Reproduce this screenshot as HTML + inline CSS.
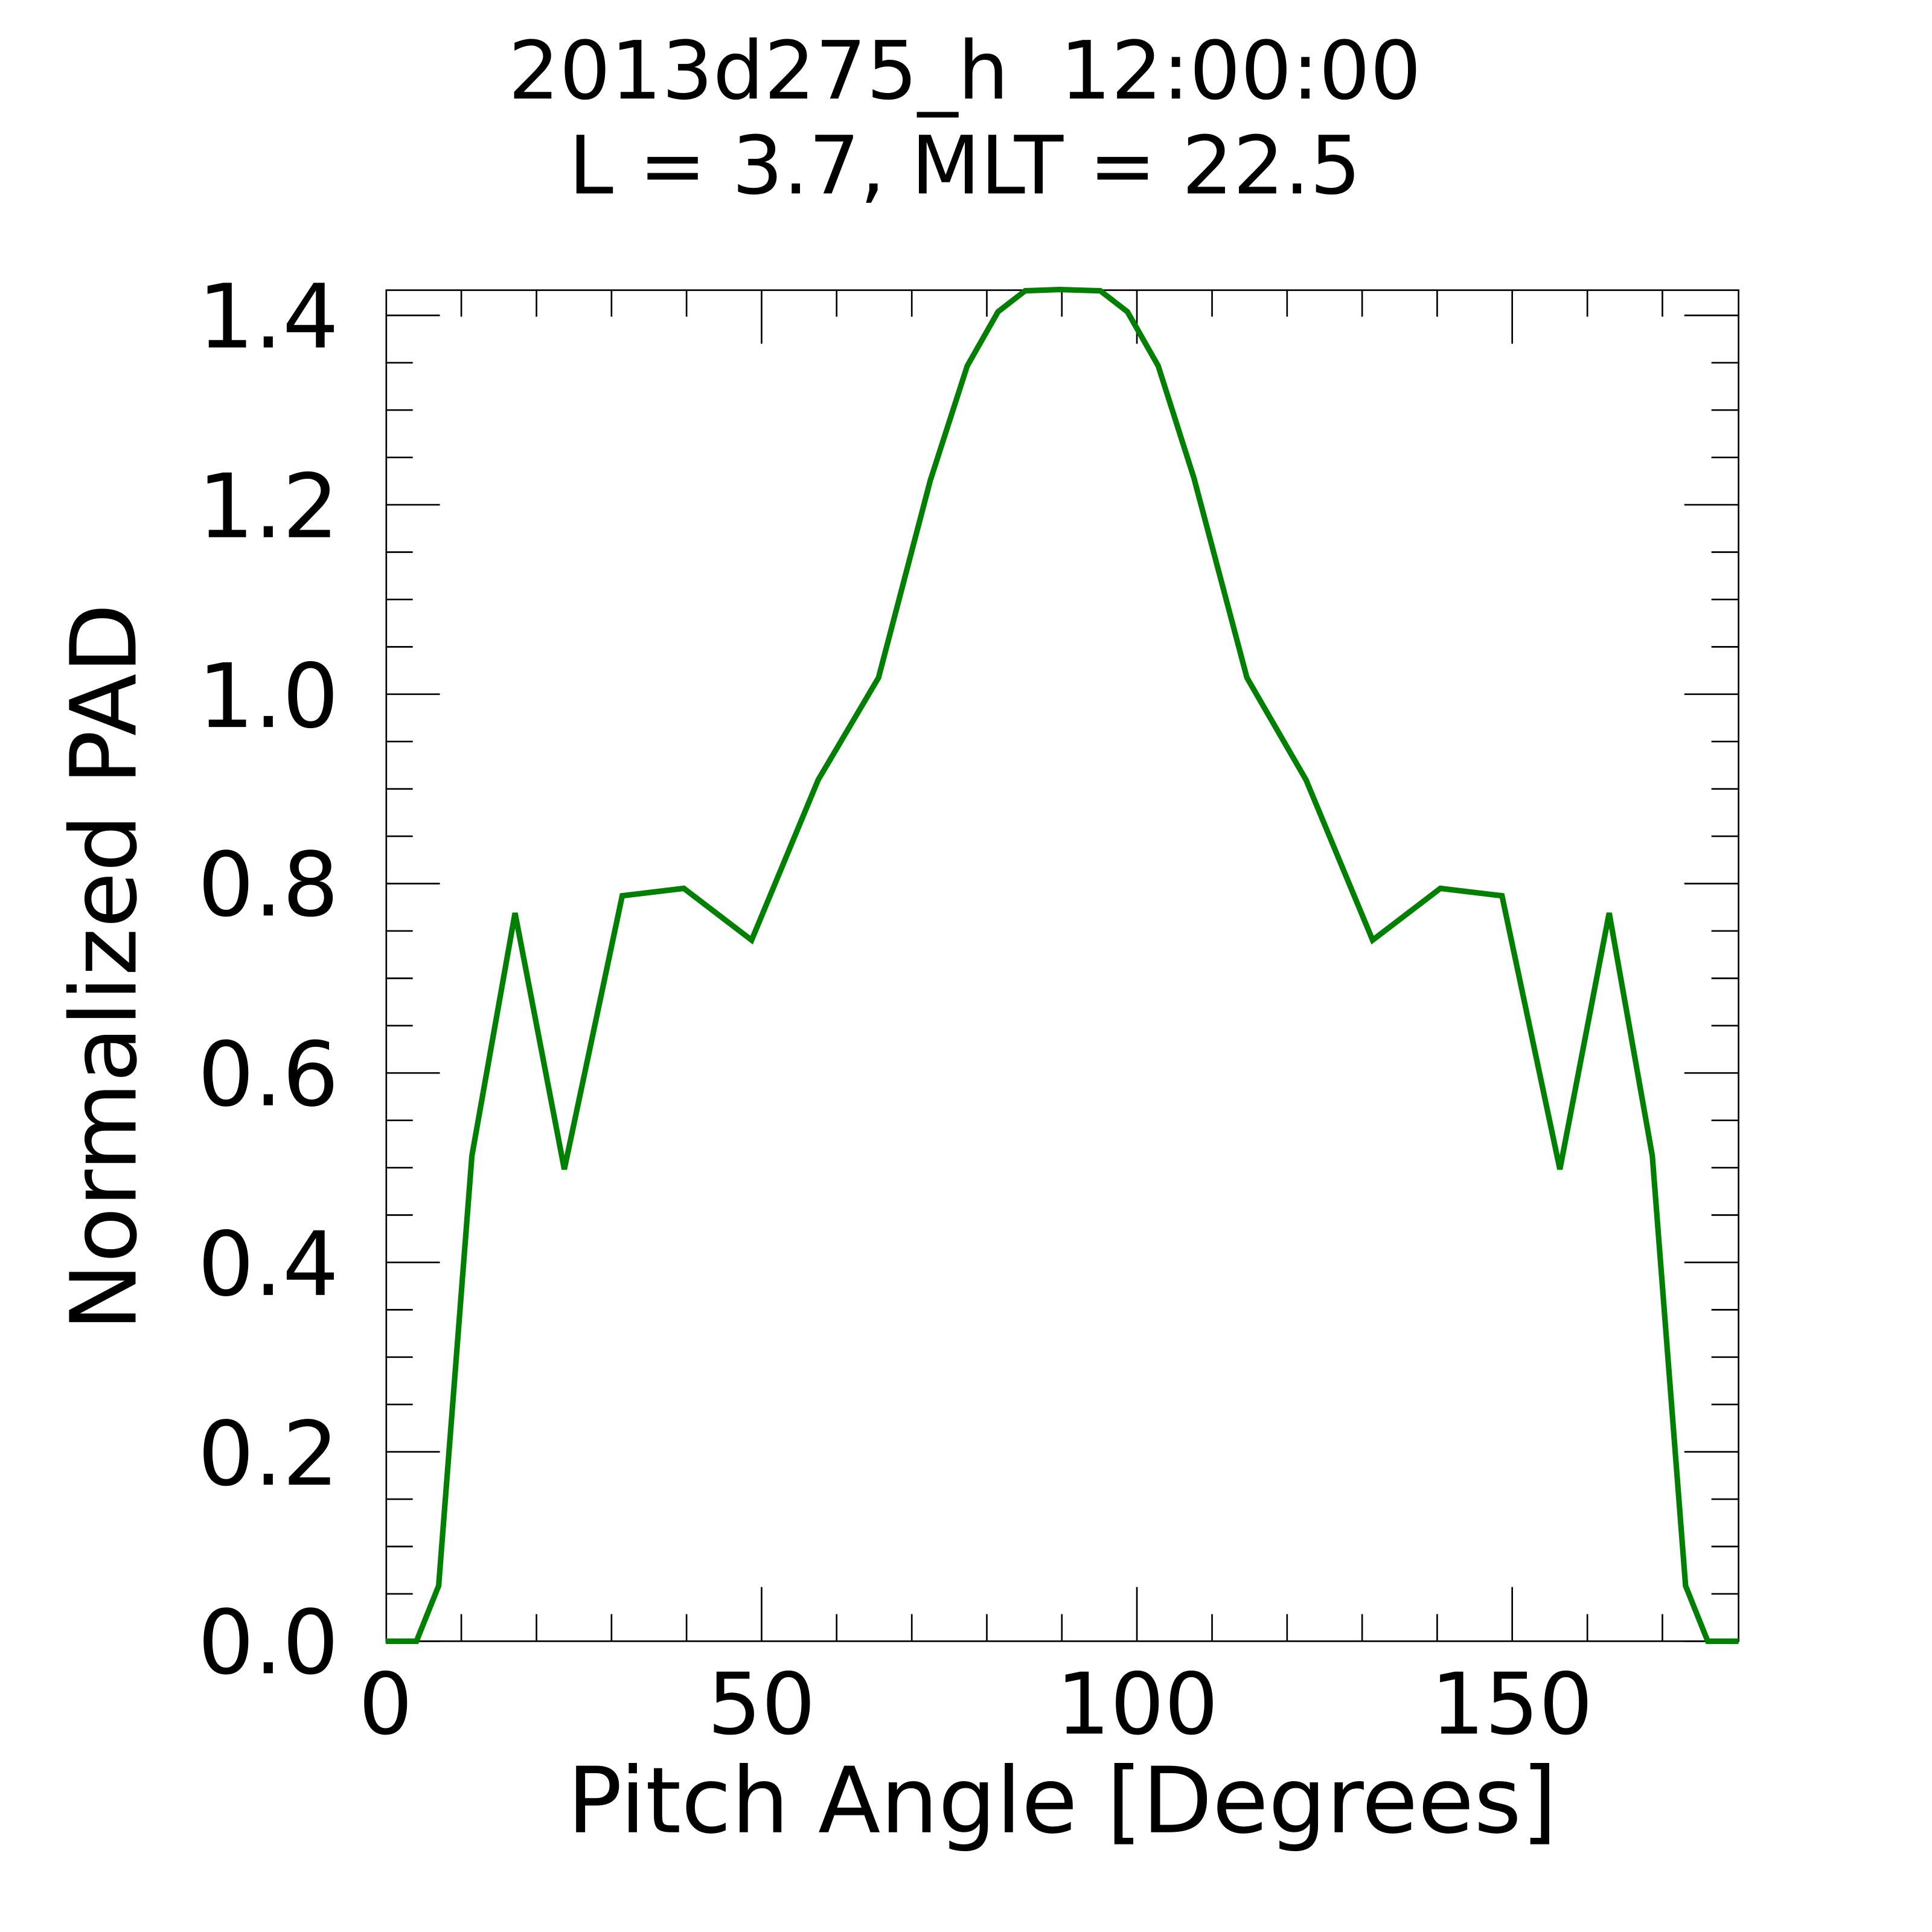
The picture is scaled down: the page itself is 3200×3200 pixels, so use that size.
<!DOCTYPE html>
<html><head><style>html,body{margin:0;padding:0;background:#fff}svg{display:block}</style></head>
<body>
<svg width="3200" height="3200" viewBox="0 0 1568 1568" xmlns="http://www.w3.org/2000/svg" font-family="'DejaVu Sans','Liberation Sans',sans-serif">
<rect width="1568" height="1568" fill="#fff"/>
<text x="783" y="80" font-size="65.3" text-anchor="middle" xml:space="preserve">2013d275_h  12:00:00</text>
<text x="783" y="157" font-size="65.3" text-anchor="middle">L = 3.7, MLT = 22.5</text>
<g stroke="#000" stroke-width="1.3" fill="none">
<rect x="313.5" y="235.5" width="1097.5" height="1096.5"/>
<path d="
M374.4 235v22M435.4 235v22M496.3 235v22M557.2 235v22M679 235v22M740 235v22M800.9 235v22M861.8 235v22M983.7 235v22M1044.6 235v22M1105.5 235v22M1166.4 235v22M1288.3 235v22M1349.2 235v22
M618.1 235v44M922.7 235v44M1227.3 235v44
M374.4 1332v-22M435.4 1332v-22M496.3 1332v-22M557.2 1332v-22M679 1332v-22M740 1332v-22M800.9 1332v-22M861.8 1332v-22M983.7 1332v-22M1044.6 1332v-22M1105.5 1332v-22M1166.4 1332v-22M1288.3 1332v-22M1349.2 1332v-22
M618.1 1332v-44M922.7 1332v-44M1227.3 1332v-44
M313 1332h44M313 1178.28h44M313 1024.56h44M313 870.84h44M313 717.12h44M313 563.4h44M313 409.68h44M313 255.96h44
M1411 1332h-44M1411 1178.28h-44M1411 1024.56h-44M1411 870.84h-44M1411 717.12h-44M1411 563.4h-44M1411 409.68h-44M1411 255.96h-44
M313 1293.57h22M313 1255.14h22M313 1216.71h22M313 1139.85h22M313 1101.42h22M313 1062.99h22M313 986.13h22M313 947.7h22M313 909.27h22M313 832.41h22M313 793.98h22M313 755.55h22M313 678.69h22M313 640.26h22M313 601.83h22M313 524.97h22M313 486.54h22M313 448.11h22M313 371.25h22M313 332.82h22M313 294.39h22
M1411 1293.57h-22M1411 1255.14h-22M1411 1216.71h-22M1411 1139.85h-22M1411 1101.42h-22M1411 1062.99h-22M1411 986.13h-22M1411 947.7h-22M1411 909.27h-22M1411 832.41h-22M1411 793.98h-22M1411 755.55h-22M1411 678.69h-22M1411 640.26h-22M1411 601.83h-22M1411 524.97h-22M1411 486.54h-22M1411 448.11h-22M1411 371.25h-22M1411 332.82h-22M1411 294.39h-22
"/>
</g>
<g font-size="72" text-anchor="end">
<text x="275" y="1358">0.0</text>
<text x="275" y="1205">0.2</text>
<text x="275" y="1051">0.4</text>
<text x="275" y="897">0.6</text>
<text x="275" y="743">0.8</text>
<text x="275" y="590">1.0</text>
<text x="275" y="436">1.2</text>
<text x="275" y="282">1.4</text>
</g>
<g font-size="69" text-anchor="middle">
<text x="313" y="1407">0</text>
<text x="618" y="1407">50</text>
<text x="923" y="1407">100</text>
<text x="1227" y="1407">150</text>
</g>
<text x="862" y="1487" font-size="74" text-anchor="middle">Pitch Angle [Degrees]</text>
<text transform="translate(110,785) rotate(-90)" font-size="74" text-anchor="middle">Normalized PAD</text>
<polyline fill="none" stroke="#008000" stroke-width="4.5" stroke-linejoin="miter" points="313,1332 338,1332 356,1287 383,938 418,741 458,949 505,727 555,721 610,763 664,633 713,550 755,390 785,297 810,253 832,236 860,235 893,236 915,253 940,297 969,388 1012,550 1060,633 1114,763 1169,721 1219,727 1266,949 1306,741 1341,938 1368,1287 1386,1332 1411,1332"/>
</svg>
</body></html>
